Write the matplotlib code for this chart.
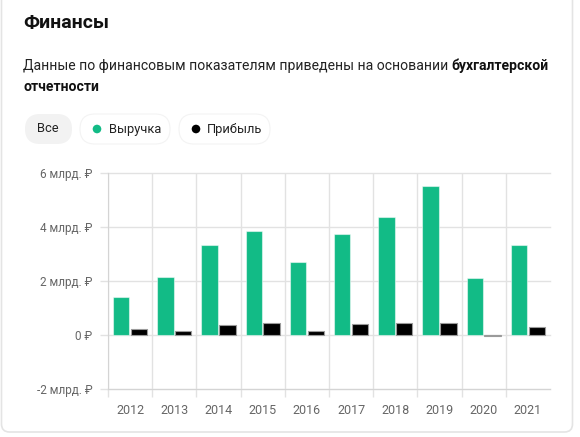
import matplotlib.pyplot as plt
from matplotlib.patches import FancyBboxPatch, Circle
import numpy as np

plt.rcParams['font.family'] = ['Roboto', 'DejaVu Sans']

years = ['2012', '2013', '2014', '2015', '2016', '2017', '2018', '2019', '2020', '2021']
revenue = [1.42, 2.14, 3.33, 3.85, 2.70, 3.75, 4.36, 5.52, 2.11, 3.33]
profit = [0.21, 0.14, 0.38, 0.43, 0.15, 0.42, 0.44, 0.44, -0.05, 0.28]
y_ticks = [-2, 0, 2, 4, 6]
y_labels = ['-2 млрд. ₽', '0 ₽', '2 млрд. ₽', '4 млрд. ₽', '6 млрд. ₽']

GREEN = '#12bb86'
GRID = '#e2e2e2'
W, H = 580, 437

fig = plt.figure(figsize=(5.8, 4.37), dpi=100)

# background layer in pixel coordinates
bg = fig.add_axes([0, 0, 1, 1], zorder=-1)
bg.set_xlim(0, W)
bg.set_ylim(H, 0)
bg.axis('off')

bg.add_patch(FancyBboxPatch((1.5, -30), 571, 462,
                            boxstyle='round,pad=0,rounding_size=8',
                            facecolor='white', edgecolor='#e4e4e4', linewidth=1.2))

bg.text(23, 23, 'Финансы', fontsize=14, fontweight='bold',
        va='center', ha='left', color='#111111')
t = bg.text(23, 66, 'Данные по финансовым показателям приведены на основании ',
            fontsize=10.05, va='center', ha='left', color='#222222')
bg.annotate('бухгалтерской', xy=(1, 0.5), xycoords=t, fontsize=10.05,
            fontweight='bold', va='center', ha='left', color='#111111')
bg.text(23, 87, 'отчетности', fontsize=10.05, fontweight='bold',
        va='center', ha='left', color='#111111')

# filter pills
pills = [(25, 72, '#f2f2f2', 'none'), (80, 170, 'white', '#f3f3f3'),
         (179, 270, 'white', '#f3f3f3')]
for x0, x1, fc, ec in pills:
    bg.add_patch(FancyBboxPatch((x0, 114), x1 - x0, 30,
                                boxstyle='round,pad=0,rounding_size=15',
                                facecolor=fc, edgecolor=ec, linewidth=0.8))
bg.text(48, 129, 'Все', fontsize=9.3, ha='center', va='center', color='#222222')
bg.add_patch(Circle((97, 129), 4.3, facecolor=GREEN, edgecolor='none'))
bg.text(109, 129, 'Выручка', fontsize=9.3, ha='left', va='center', color='#222222')
bg.add_patch(Circle((196, 129), 4.3, facecolor='black', edgecolor='none'))
bg.text(207, 129, 'Прибыль', fontsize=9.3, ha='left', va='center', color='#222222')

ax = fig.add_axes([108 / W, 1 - 389 / H, 442 / W, 216 / H])
ax.patch.set_alpha(0)
x = np.arange(len(years))
ax.bar(x - 0.2, revenue, width=0.37, color=GREEN, edgecolor=(1, 1, 1, 0.5),
       linewidth=0.8, zorder=3)
profit_colors = ['black' if v >= 0 else '#cccccc' for v in profit]
ax.bar(x + 0.2, profit, width=0.37, color=profit_colors, edgecolor='#9a9a9a',
       linewidth=0.8, zorder=3)

ax.set_xlim(-0.5, len(years) - 0.5)
ax.set_ylim(-2, 6)
ax.set_yticks(y_ticks)
ax.set_yticklabels(y_labels)
ax.set_xticks(x)
ax.set_xticklabels(years)
ax.set_xticks(np.arange(-0.5, len(years) - 1), minor=True)

ax.tick_params(axis='y', length=5.8, color=GRID, width=1, pad=5.5,
               labelsize=8.5, labelcolor='#666666')
ax.tick_params(axis='x', which='major', length=0, pad=11, labelsize=9,
               labelcolor='#666666')
ax.tick_params(axis='x', which='minor', length=5.8, color=GRID, width=1)

ax.grid(axis='y', color=GRID, linewidth=1, zorder=0)
ax.grid(axis='x', which='minor', color=GRID, linewidth=1, zorder=0)
for s in ['top', 'right']:
    ax.spines[s].set_visible(False)
ax.spines['left'].set_color('#d4d4d4')
ax.spines['bottom'].set_color('#d4d4d4')
for line in ax.get_ygridlines():
    line.set_clip_on(False)

fig.savefig('out.png', dpi=100)
